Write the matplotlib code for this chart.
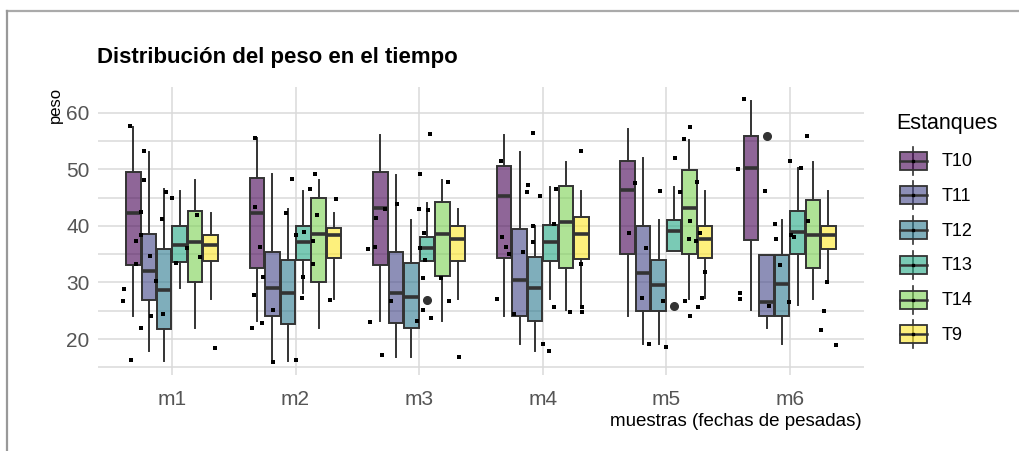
import matplotlib
matplotlib.use('Agg')
import matplotlib.pyplot as plt
from matplotlib.patches import Rectangle
from matplotlib.lines import Line2D

plt.rcParams['font.family'] = ['Liberation Sans', 'DejaVu Sans']

# categorías y tratamientos
muestras = ['m1', 'm2', 'm3', 'm4', 'm5', 'm6']
estanques = ['T10', 'T11', 'T12', 'T13', 'T14', 'T9']
colores = ['#440154', '#414487', '#2A788E', '#22A884', '#7AD151', '#FDE725']

# estadísticos de cada caja, una lista por estanque, m1..m6
# [bigote inferior, Q1, mediana, Q3, bigote superior]
T10 = [[24.1, 33.0, 42.2, 49.6, 57.5], [23.1, 32.5, 42.2, 48.5, 55.6], [23.1, 33.0, 43.1, 49.6, 56.1],
       [24.1, 34.3, 45.2, 50.6, 56.1], [24.1, 35.0, 46.3, 51.5, 57.1], [25.1, 37.5, 50.2, 55.9, 62.1]]
T11 = [[17.9, 26.9, 32.1, 38.6, 53.1], [16.1, 24.1, 29.1, 35.3, 49.1], [16.9, 22.8, 28.1, 35.3, 49.0],
       [19.1, 24.1, 30.4, 39.4, 53.1], [19.1, 25.0, 31.6, 40.0, 52.0], [22.0, 24.1, 26.6, 34.8, 34.8]]
T12 = [[16.1, 21.8, 28.7, 35.9, 46.6], [16.1, 22.6, 28.1, 34.0, 42.9], [16.9, 22.0, 27.5, 33.5, 41.0],
       [17.9, 23.2, 29.1, 34.5, 39.9], [19.1, 25.0, 29.5, 34.0, 41.0], [19.1, 24.1, 29.7, 34.8, 41.0]]
T13 = [[29.1, 33.6, 36.7, 40.0, 46.2], [28.2, 34.0, 37.2, 40.0, 46.2], [33.7, 33.7, 36.0, 38.1, 44.0],
       [27.0, 33.8, 37.1, 40.2, 46.9], [35.6, 35.6, 39.1, 41.0, 46.9], [26.0, 35.0, 39.0, 42.6, 50.2]]
T14 = [[22.0, 30.0, 37.2, 42.6, 48.1], [22.0, 30.0, 38.6, 45.0, 48.1], [23.1, 31.1, 38.5, 44.2, 48.1],
       [25.1, 32.5, 40.6, 47.1, 51.2], [27.0, 35.1, 43.1, 49.9, 55.2], [27.0, 32.5, 38.3, 44.5, 51.2]]
T9 = [[27.0, 33.8, 36.7, 38.4, 42.2], [27.0, 34.3, 38.3, 39.7, 42.2], [27.0, 33.8, 37.6, 40.0, 42.9],
      [25.8, 34.1, 38.5, 41.5, 46.2], [27.2, 34.3, 37.6, 40.0, 46.2], [30.3, 35.9, 38.3, 40.0, 46.2]]
cajas = [T10, T11, T12, T13, T14, T9]

# valores atípicos: (muestra, estanque, peso)
atipicos = [('m3', 'T13', 26.9), ('m5', 'T13', 25.8), ('m6', 'T11', 55.9)]

# puntos con jitter: desplazamiento horizontal y peso, por muestra
jit_m1 = [-0.34, -0.23, -0.23, -0.25, -0.29, -0.25, -0.29, -0.18, -0.13, -0.39, -0.40, -0.17,
          -0.25, -0.07, -0.33, -0.05, -0.08, 0.00, 0.03, 0.12, 0.20, 0.23, 0.35]
peso_m1 = [57.6, 53.2, 48.1, 42.5, 37.4, 38.3, 33.3, 34.7, 30.3, 28.8, 26.8, 24.1,
           21.9, 24.4, 16.3, 45.9, 41.2, 44.9, 33.4, 36.0, 41.9, 34.5, 18.5]
jit_m2 = [-0.33, -0.33, -0.29, -0.26, -0.34, -0.35, -0.27, -0.18, -0.18, -0.03, -0.08, 0.00,
          0.00, 0.07, 0.06, 0.05, 0.12, 0.16, 0.17, 0.14, 0.14, 0.33, 0.28]
peso_m2 = [55.6, 43.3, 36.3, 31.0, 27.8, 21.9, 22.8, 25.1, 16.0, 48.3, 42.2, 16.3,
           38.3, 39.0, 31.0, 27.2, 46.5, 49.2, 41.9, 37.4, 33.2, 44.7, 26.9]
jit_m3 = [-0.30, -0.40, -0.36, -0.35, -0.28, -0.41, -0.18, -0.23, -0.02, 0.01, 0.00, 0.07,
          0.09, 0.04, 0.01, 0.05, 0.03, 0.03, 0.10, 0.23, 0.18, 0.24, 0.32]
peso_m3 = [17.1, 23.0, 36.3, 41.4, 43.0, 35.9, 43.8, 26.7, 23.2, 49.2, 43.0, 42.8,
           56.2, 38.7, 36.0, 34.0, 30.7, 25.1, 23.8, 47.8, 30.7, 26.7, 16.9]
jit_m4 = [-0.34, -0.33, -0.30, -0.27, -0.37, -0.23, -0.16, -0.12, -0.13, -0.08, -0.02, -0.08,
          -0.08, 0.00, 0.05, 0.11, 0.09, 0.09, 0.22, 0.31, 0.31, 0.32, 0.32]
peso_m4 = [51.5, 38.0, 36.3, 35.0, 27.0, 24.4, 35.3, 47.3, 45.9, 56.4, 45.3, 39.9,
           37.1, 19.2, 17.9, 46.5, 40.3, 25.6, 24.8, 53.2, 33.2, 25.6, 24.8]
jit_m5 = [-0.25, -0.30, -0.16, -0.20, -0.14, -0.05, -0.03, 0.00, 0.07, 0.11, 0.14, 0.19,
          0.19, 0.18, 0.15, 0.19, 0.25, 0.24, 0.27, 0.31, 0.29, 0.26]
peso_m5 = [47.5, 38.7, 36.0, 27.2, 19.2, 46.2, 26.7, 18.6, 52.0, 45.9, 55.3, 57.4,
           40.9, 37.6, 26.7, 24.1, 47.8, 37.4, 38.8, 31.8, 27.2, 25.6]
jit_m6 = [-0.37, -0.42, -0.20, -0.40, -0.40, -0.17, -0.12, -0.11, -0.08, -0.01, 0.00, 0.09,
          0.03, 0.01, 0.14, 0.15, 0.30, 0.28, 0.25, 0.37]
peso_m6 = [62.5, 50.0, 46.2, 28.1, 27.0, 25.9, 40.3, 37.7, 33.1, 26.5, 51.5, 50.3,
           38.1, 38.3, 55.9, 40.9, 30.1, 25.0, 21.6, 18.9]
jitter = [(jit_m1, peso_m1), (jit_m2, peso_m2), (jit_m3, peso_m3),
          (jit_m4, peso_m4), (jit_m5, peso_m5), (jit_m6, peso_m6)]

W, H = 1020, 451
fig = plt.figure(figsize=(W / 100, H / 100), dpi=100)
ax = fig.add_axes([97.8 / W, 1 - 375 / H, (864 - 97.8) / W, (375 - 87) / H])

borde = '#333333'
ancho = 0.125
for j, (nombre, stats, color) in enumerate(zip(estanques, cajas, colores)):
    bxs = []
    pos = []
    for i, s in enumerate(stats):
        fl = [v for (m, t, v) in atipicos if m == muestras[i] and t == nombre]
        bxs.append(dict(whislo=s[0], q1=s[1], med=s[2], q3=s[3], whishi=s[4], fliers=fl))
        pos.append(i + 1 + (j - 2.5) * ancho)
    ax.bxp(bxs, positions=pos, widths=ancho * 0.94, patch_artist=True, showcaps=False,
           boxprops=dict(facecolor=matplotlib.colors.to_rgba(color, 0.6), edgecolor=borde, linewidth=1.4),
           whiskerprops=dict(color=borde, linewidth=1.4),
           medianprops=dict(color=borde, linewidth=2.6),
           flierprops=dict(marker='o', markerfacecolor=borde, markeredgecolor=borde, markersize=5.5),
           zorder=3)

for i, (dx, pv) in enumerate(jitter):
    ax.scatter([i + 1 + d for d in dx], pv, s=5, color='black', marker='s', linewidths=0, zorder=4)

ax.set_xlim(0.4, 6.6)
ax.set_ylim(13.64, 64.54)
ax.set_xticks(range(1, 7))
ax.set_xticklabels(muestras)
ax.set_yticks([20, 30, 40, 50, 60])
ax.set_yticks([15, 25, 35, 45, 55], minor=True)
ax.tick_params(axis='both', which='both', length=0, labelsize=15, labelcolor='#555555')
ax.tick_params(axis='x', pad=11)
ax.tick_params(axis='y', pad=6)
ax.grid(True, which='major', axis='both', color='#DADADA', linewidth=1.1)
ax.grid(True, which='minor', axis='y', color='#DADADA', linewidth=1.1)
ax.set_axisbelow(True)
for sp in ax.spines.values():
    sp.set_visible(False)

# capa en píxeles para textos, leyenda y marco
capa = fig.add_axes([0, 0, 1, 1], zorder=-1)
capa.set_xlim(0, W)
capa.set_ylim(H, 0)
capa.axis('off')
capa.patch.set_alpha(0)

capa.text(97, 63, 'Distribución del peso en el tiempo', fontsize=16, fontweight='bold',
          ha='left', va='baseline')
capa.text(55, 87, 'peso', fontsize=12, rotation=90, ha='center', va='top')
capa.text(862, 422, 'muestras (fechas de pesadas)', fontsize=13.5, ha='right', va='center')

capa.text(896, 123, 'Estanques', fontsize=15.5, ha='left', va='center')
for k, (nombre, color) in enumerate(zip(estanques, colores)):
    yc = 160.7 + k * 34.7
    capa.add_line(Line2D([913.5, 913.5], [yc - 14, yc + 14], color=borde, linewidth=1.2))
    capa.add_patch(Rectangle((900, yc - 9), 27, 18, facecolor=matplotlib.colors.to_rgba(color, 0.6),
                             edgecolor=borde, linewidth=1.3, zorder=3))
    capa.add_line(Line2D([900, 927], [yc, yc], color=borde, linewidth=1.8, zorder=4))
    capa.plot([913.5], [yc], marker='s', markersize=2.0, color='black', zorder=5)
    capa.text(942, yc + 1, nombre, fontsize=13, ha='left', va='center')

# marco gris de la captura
capa.add_line(Line2D([7, W], [10.5, 10.5], color='#AAAAAA', linewidth=1.6))
capa.add_line(Line2D([7.5, 7.5], [10.5, H], color='#999999', linewidth=1.6))

fig.savefig('out.png', dpi=100)
